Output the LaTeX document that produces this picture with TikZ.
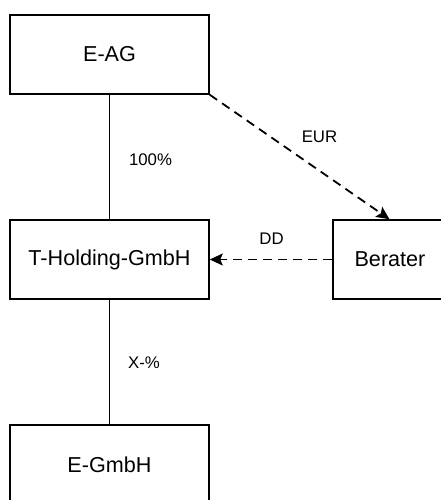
\documentclass[tikz,border=0pt]{standalone}
\usepackage{fontspec}
\setmainfont{Liberation Sans}
\usepackage{tikz}
\usetikzlibrary{arrows.meta}

\begin{document}
\begin{tikzpicture}[x=1pt,y=-1pt,
  firm/.style={draw,line width=1.5pt,minimum width=199pt,minimum height=79pt,
    inner sep=0pt,font=\fontsize{21.6}{26}\selectfont},
  share/.style={font=\fontsize{16.8}{20}\selectfont,inner sep=0pt},
  flow/.style={line width=1.8pt,dash pattern=on 9pt off 6pt,
    -{Stealth[length=13pt,width=12pt,inset=2.5pt]}}]
\useasboundingbox (0,0) rectangle (441,500);

\node[firm] (eag) at (109.5,54.5) {E-AG};
\node[firm] (thold) at (109.5,259.5) {T-Holding-GmbH};
\node[firm] (egmbh) at (109.5,464.5) {E-GmbH};
\node[firm,minimum width=137pt] (berater) at (401.5,259.5) {Berater\hspace*{23pt}};

\draw[line width=1.5pt] (eag) -- (thold);
\draw[line width=1.5pt] (thold) -- (egmbh);
\draw[flow] (eag.south east) -- ([xshift=-12pt]berater.north);
\draw[flow] (berater.west) -- (thold.east);

\node[share] (p100) at (150.5,160) {100\%};
\node[share] (px) at (144,363) {X-\%};
\node[share] (eur) at (319.5,137) {EUR};
\node[share] (dd) at (271.5,239) {DD};

\end{tikzpicture}
\end{document}
